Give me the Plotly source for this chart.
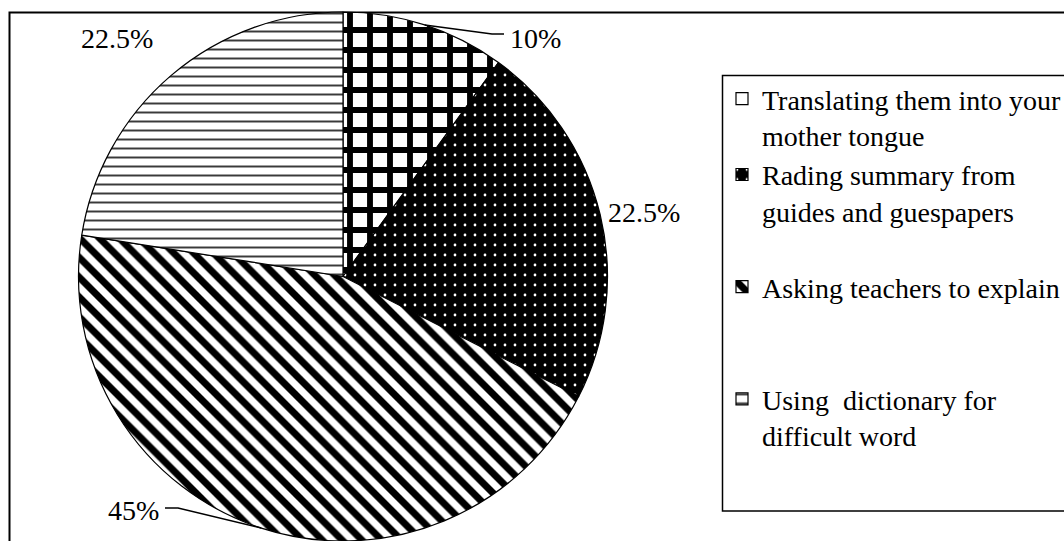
import math
import plotly.graph_objects as go

# Survey answers and their shares (percent)
labels = [
    "Translating them into your<br>mother tongue",
    "Rading summary from<br>guides and guespapers<br> ",
    "Asking teachers to explain<br> <br> ",
    "Using  dictionary for<br>difficult word",
]
shares = [10, 22.5, 45, 22.5]
share_text = ["10%", "22.5%", "45%", "22.5%"]

W, H = 1064, 541
FONT = "Liberation Serif"

# Pie placement in pixels
cx, cy, r = 343.0, 276.5, 264.5

fig = go.Figure()
fig.add_trace(go.Pie(
    labels=labels,
    values=shares,
    sort=False,
    direction="clockwise",
    rotation=0,
    textinfo="none",
    hoverinfo="label+percent",
    domain=dict(x=[(cx - r) / W, (cx + r) / W], y=[0, 2 * r / H]),
    marker=dict(
        colors=["white", "black", "white", "white"],
        line=dict(color="black", width=1.2),
        pattern=dict(
            shape=["+", ".", "\\", "-"],
            fgcolor=["black", "white", "black", "#3a3a3a"],
            bgcolor=["white", "black", "white", "white"],
            size=[20, 10, 14, 9],
            solidity=[0.5, 0.06, 0.5, 0.22],
            fillmode="replace",
        ),
    ),
))


def px2paper(x, y):
    return x / W, 1 - y / H


def edge_point(idx):
    # point on the rim at the middle of slice idx (angles clockwise from 12 o'clock)
    total = sum(shares)
    start = sum(shares[:idx]) / total * 360
    mid = math.radians(start + shares[idx] / total * 180)
    return cx + r * math.sin(mid), cy - r * math.cos(mid)


shapes = []
annotations = []

# outer frame
shapes.append(dict(type="rect", xref="paper", yref="paper",
                   x0=9.5 / W, x1=1.02, y0=-0.02, y1=1 - 12.5 / H,
                   line=dict(color="black", width=2), fillcolor="rgba(0,0,0,0)",
                   layer="below"))

# legend frame
shapes.append(dict(type="rect", xref="paper", yref="paper",
                   x0=722.5 / W, x1=1.02, y0=1 - 511 / H, y1=1 - 75.5 / H,
                   line=dict(color="black", width=1.5), fillcolor="white",
                   layer="below"))

# share labels: (slice index, text anchor px, xanchor, leader line knee px or None)
label_pos = [
    (0, (508, 38), "left", (492, 34)),
    (1, (606, 212), "left", None),
    (2, (161, 510), "right", (178, 508)),
    (3, (79, 38), "left", None),
]
for idx, (tx, ty), anchor, knee in label_pos:
    ax_, ay_ = px2paper(tx, ty)
    annotations.append(dict(
        x=ax_, y=ay_, xref="paper", yref="paper", text=share_text[idx],
        showarrow=False, xanchor=anchor, yanchor="middle",
        font=dict(family=FONT, size=28, color="black"),
    ))
    if knee is not None:
        ex, ey = edge_point(idx)
        kx, ky = knee
        endx = tx - 4 if anchor == "left" else tx + 4
        pts = [(ex, ey), (kx, ky), (endx, ky)]
        path = "M " + " L ".join(f"{x / W},{1 - y / H}" for x, y in pts)
        shapes.append(dict(type="path", xref="paper", yref="paper", path=path,
                           line=dict(color="black", width=1.5)))

fig.update_layout(
    width=W, height=H,
    margin=dict(l=0, r=0, t=0, b=0, pad=0, autoexpand=False),
    paper_bgcolor="white",
    plot_bgcolor="white",
    showlegend=True,
    legend=dict(
        x=722 / W, y=1 - 74 / H, xanchor="left", yanchor="top",
        xref="paper", yref="paper",
        borderwidth=0, bgcolor="rgba(0,0,0,0)",
        font=dict(family=FONT, size=28, color="black"),
        valign="top",
        traceorder="normal",
    ),
    shapes=shapes,
    annotations=annotations,
)

fig.write_html("out.html")
